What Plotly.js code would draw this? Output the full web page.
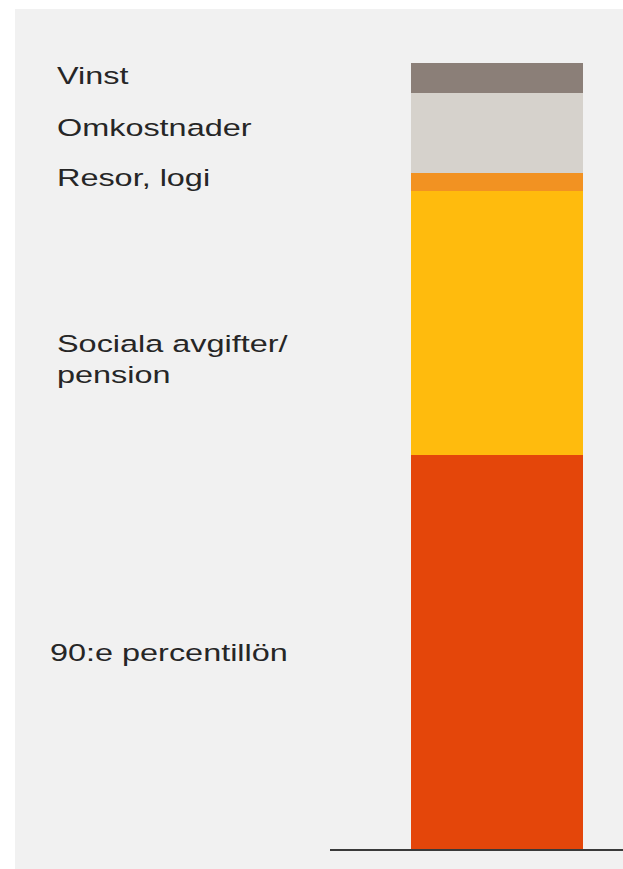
<!DOCTYPE html>
<html>
<head>
<meta charset="utf-8">
<script src="https://cdn.plot.ly/plotly-3.0.1.min.js"></script>
<style>html,body{margin:0;padding:0;background:#fff;}#chart{width:623px;height:869px;}</style>
</head>
<body>
<div id="chart"></div>
<script>
// Data (stack order bottom -> top)
const categories = ["90:e percentillön", "Sociala avgifter/pension", "Resor, logi", "Omkostnader", "Vinst"];
const labels = ["90:e percentillön", "Sociala avgifter/<br>pension", "Resor, logi", "Omkostnader", "Vinst"];
const values = [394, 264, 18, 80, 30];
const colors = ["#e4460a", "#ffbb0d", "#f29222", "#d6d2cc", "#8b7f78"];

const W = 623, H = 869;
// label centre positions in pixels (layout only)
const labelPx = [[48, 653], [55, 359], [55, 178], [55, 128], [55, 76]];

const traces = categories.map((c, i) => ({
  type: "bar",
  name: c,
  x: [0],
  y: [values[i]],
  width: 1,
  marker: {color: colors[i], line: {width: 0}},
  hoverinfo: "name+y"
}));

const annotations = labels.map((t, i) => ({
  xref: "paper", yref: "paper",
  x: labelPx[i][0] / W, y: 1 - labelPx[i][1] / H,
  xanchor: "left", yanchor: "middle", align: "left",
  text: t, showarrow: false,
  font: {family: "Liberation Sans, Arial, sans-serif", size: 23.5, color: "#262626"}
}));

const layout = {
  width: W, height: H,
  margin: {l: 0, r: 0, t: 0, b: 0, pad: 0},
  paper_bgcolor: "#ffffff",
  plot_bgcolor: "rgba(0,0,0,0)",
  barmode: "stack",
  bargap: 0,
  showlegend: false,
  xaxis: {
    domain: [330 / W, 1],
    range: [-0.5 - (411 - 330) / 172, -0.5 + (623 - 411) / 172],
    showgrid: false, zeroline: false, showticklabels: false, ticks: "",
    showline: true, linecolor: "#3a3a3a", linewidth: 2, fixedrange: true
  },
  yaxis: {
    domain: [20 / H, 1],
    range: [0, 849],
    showgrid: false, zeroline: false, showticklabels: false, ticks: "",
    showline: false, fixedrange: true
  },
  shapes: [{
    type: "rect", xref: "paper", yref: "paper", layer: "below",
    x0: 15 / W, x1: 1, y0: 0, y1: 1 - 9 / H,
    fillcolor: "#f1f1f1", line: {width: 0}
  }],
  annotations: annotations
};

Plotly.newPlot("chart", traces, layout, {displayModeBar: false, staticPlot: true}).then(() => {
  const s = 1.38;
  document.querySelectorAll("#chart .annotation-text").forEach(t => {
    const b = t.getBBox();
    const left = b.x;
    t.setAttribute("transform", `translate(${left * (1 - s)},0) scale(${s},1)`);
  });
});
</script>
</body>
</html>
